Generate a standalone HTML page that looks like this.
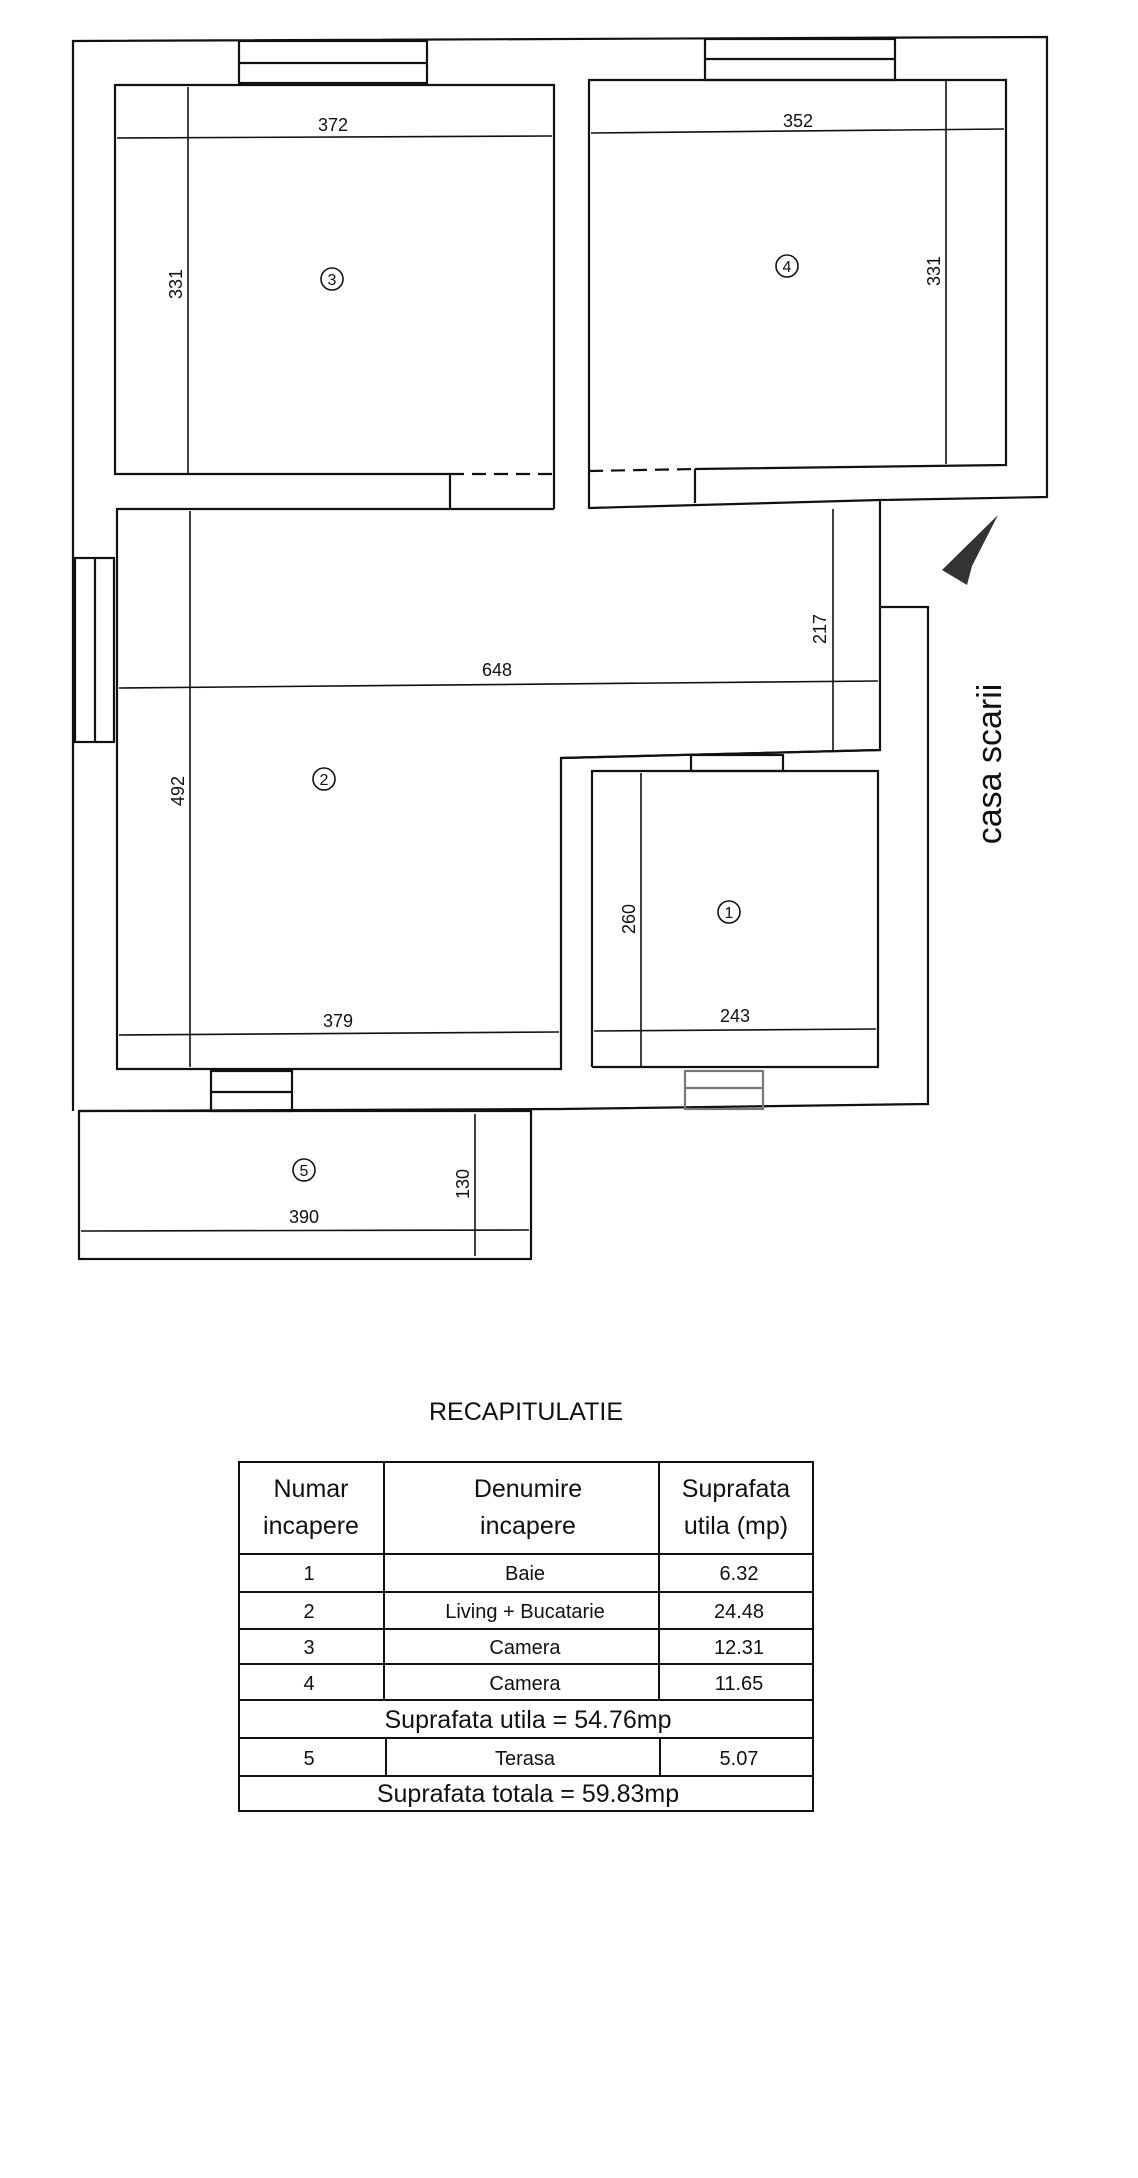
<!DOCTYPE html>
<html><head><meta charset="utf-8"><style>
body{margin:0;background:#fff}
svg{display:block}
text{font-family:"Liberation Sans",Arial,sans-serif;fill:#111}
</style></head><body>
<svg width="1138" height="2178" viewBox="0 0 1138 2178" xmlns="http://www.w3.org/2000/svg">
<g fill="none" stroke="#111" stroke-width="2.2">
<polyline points="73,1111 73,41 1047,37 1047,497 880,500 880,750 561,758 561,1069 117,1069 117,509 554,509"/>
<polyline points="589,508 880,500"/>
<polyline points="908,607 928,607 928,1104 561,1109 79,1111"/>
<line x1="880" y1="607" x2="908" y2="607"/>
<polyline points="450,474 115,474 115,85 554,85 554,509"/>
<line x1="450" y1="474" x2="554" y2="474" stroke-dasharray="14,8"/>
<polyline points="589,509 589,80 1006,80 1006,465 695,469"/>
<line x1="589" y1="471" x2="695" y2="469" stroke-dasharray="14,8"/>
<line x1="450" y1="474" x2="450" y2="509"/>
<line x1="695" y1="469" x2="695" y2="503"/>
<polyline points="592,1067 592,771 878,771 878,1067 592,1067"/>
<line x1="561" y1="758" x2="880" y2="750"/>
<rect x="691" y="755" width="92" height="16"/>
<rect x="239" y="41" width="188" height="42"/>
<line x1="239" y1="63" x2="427" y2="63"/>
<rect x="705" y="39" width="190" height="41"/>
<line x1="705" y1="59" x2="895" y2="59"/>
<rect x="75" y="558" width="39" height="184"/>
<line x1="95" y1="558" x2="95" y2="742"/>
<rect x="211" y="1071" width="81" height="40"/>
<line x1="211" y1="1092" x2="292" y2="1092"/>
<rect x="685" y="1071" width="78" height="38" stroke="#777"/>
<line x1="685" y1="1088" x2="763" y2="1088" stroke="#777"/>
<rect x="79" y="1111" width="452" height="148"/>
</g>
<g stroke="#111" stroke-width="1.6" fill="none">
<line x1="117" y1="138" x2="552" y2="136"/>
<line x1="188" y1="87" x2="188" y2="474"/>
<line x1="591" y1="133" x2="1004" y2="129"/>
<line x1="946" y1="80" x2="946" y2="464"/>
<line x1="833" y1="509" x2="833" y2="750"/>
<line x1="119" y1="688" x2="878" y2="681"/>
<line x1="190" y1="511" x2="190" y2="1067"/>
<line x1="119" y1="1035" x2="559" y2="1032"/>
<line x1="641" y1="773" x2="641" y2="1067"/>
<line x1="594" y1="1031" x2="876" y2="1029"/>
<line x1="475" y1="1114" x2="475" y2="1256"/>
<line x1="81" y1="1231" x2="529" y2="1230"/>
</g>
<g font-size="18" text-anchor="middle">
<text x="333" y="131">372</text>
<text x="798" y="127">352</text>
<text x="497" y="676">648</text>
<text x="338" y="1027">379</text>
<text x="735" y="1022">243</text>
<text x="304" y="1223">390</text>
<text transform="translate(182,284) rotate(-90)">331</text>
<text transform="translate(940,271) rotate(-90)">331</text>
<text transform="translate(826,629) rotate(-90)">217</text>
<text transform="translate(184,791) rotate(-90)">492</text>
<text transform="translate(635,919) rotate(-90)">260</text>
<text transform="translate(469,1184) rotate(-90)">130</text>
</g>
<g font-size="16" text-anchor="middle" stroke="#111" stroke-width="1.6">
<circle cx="332" cy="279" r="11" fill="none"/><text x="332" y="285" stroke="none">3</text>
<circle cx="787" cy="266" r="11" fill="none"/><text x="787" y="272" stroke="none">4</text>
<circle cx="324" cy="779" r="11" fill="none"/><text x="324" y="785" stroke="none">2</text>
<circle cx="729" cy="912" r="11" fill="none"/><text x="729" y="918" stroke="none">1</text>
<circle cx="304" cy="1170" r="11" fill="none"/><text x="304" y="1176" stroke="none">5</text>
</g>
<text transform="translate(1001,764) rotate(-90)" font-size="34" text-anchor="middle">casa scarii</text>
<polygon points="998,515 942,570 967,585 972,566" fill="#333"/>
<text x="526" y="1420" font-size="25" text-anchor="middle">RECAPITULATIE</text>
<g stroke="#111" stroke-width="2" fill="none">
<rect x="239" y="1462" width="574" height="349"/>
<line x1="239" y1="1554" x2="813" y2="1554"/>
<line x1="239" y1="1592" x2="813" y2="1592"/>
<line x1="239" y1="1629" x2="813" y2="1629"/>
<line x1="239" y1="1664" x2="813" y2="1664"/>
<line x1="239" y1="1700" x2="813" y2="1700"/>
<line x1="239" y1="1738" x2="813" y2="1738"/>
<line x1="239" y1="1776" x2="813" y2="1776"/>
<line x1="384" y1="1462" x2="384" y2="1700"/>
<line x1="659" y1="1462" x2="659" y2="1700"/>
<line x1="386" y1="1738" x2="386" y2="1776"/>
<line x1="660" y1="1738" x2="660" y2="1776"/>
</g>
<g font-size="25" text-anchor="middle">
<text x="311" y="1497">Numar</text><text x="311" y="1534">incapere</text>
<text x="528" y="1497">Denumire</text><text x="528" y="1534">incapere</text>
<text x="736" y="1497">Suprafata</text><text x="736" y="1534">utila (mp)</text>
</g>
<g font-size="20" text-anchor="middle">
<text x="309" y="1580">1</text><text x="525" y="1580">Baie</text><text x="739" y="1580">6.32</text>
<text x="309" y="1618">2</text><text x="525" y="1618">Living + Bucatarie</text><text x="739" y="1618">24.48</text>
<text x="309" y="1654">3</text><text x="525" y="1654">Camera</text><text x="739" y="1654">12.31</text>
<text x="309" y="1690">4</text><text x="525" y="1690">Camera</text><text x="739" y="1690">11.65</text>
<text x="309" y="1765">5</text><text x="525" y="1765">Terasa</text><text x="739" y="1765">5.07</text>
</g>
<g font-size="25" text-anchor="middle">
<text x="528" y="1728">Suprafata utila = 54.76mp</text>
<text x="528" y="1802">Suprafata totala = 59.83mp</text>
</g>
</svg>
</body></html>
